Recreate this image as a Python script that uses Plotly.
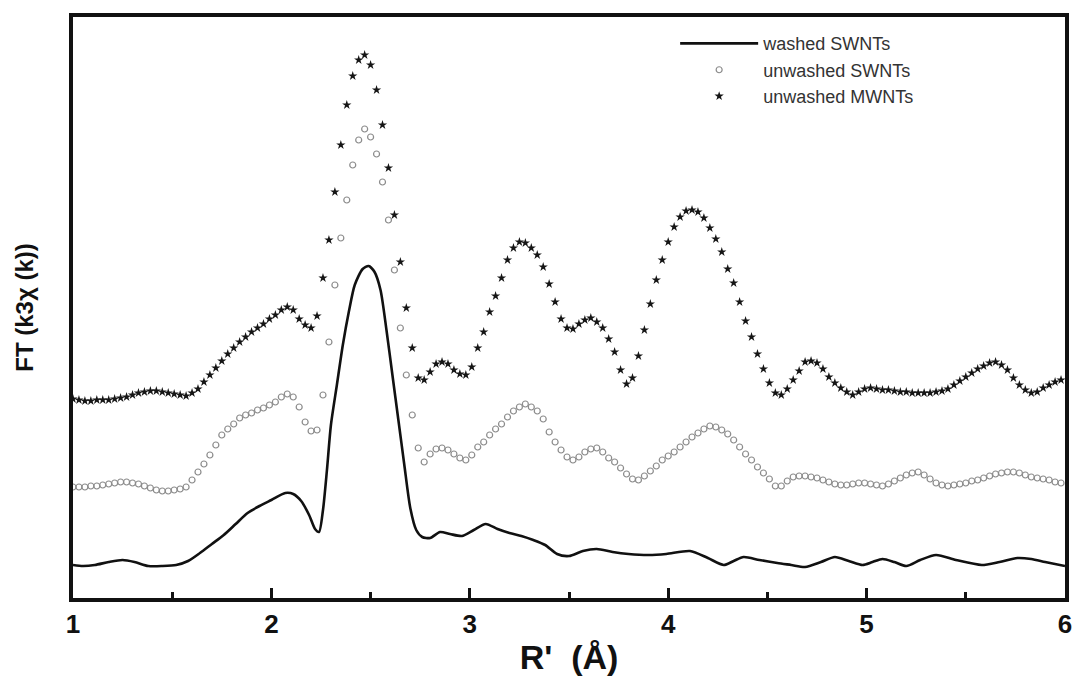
import plotly.graph_objects as go

# ---- data (y in arbitrary offset units) ----
R_grid = [1.00, 1.03, 1.06, 1.09, 1.12, 1.15, 1.18, 1.21, 1.24, 1.27,
          1.30, 1.33, 1.36, 1.39, 1.42, 1.45, 1.48, 1.51, 1.54, 1.57,
          1.60, 1.63, 1.66, 1.69, 1.72, 1.75, 1.78, 1.81, 1.84, 1.87,
          1.90, 1.93, 1.96, 1.99, 2.02, 2.05, 2.08, 2.11, 2.14, 2.17,
          2.20, 2.23, 2.26, 2.29, 2.32, 2.35, 2.38, 2.41, 2.44, 2.47,
          2.50, 2.53, 2.56, 2.59, 2.62, 2.65, 2.68, 2.71, 2.74, 2.77,
          2.80, 2.83, 2.86, 2.89, 2.92, 2.95, 2.98, 3.01, 3.04, 3.07,
          3.10, 3.13, 3.16, 3.19, 3.22, 3.25, 3.28, 3.31, 3.34, 3.37,
          3.40, 3.43, 3.46, 3.49, 3.52, 3.55, 3.58, 3.61, 3.64, 3.67,
          3.70, 3.73, 3.76, 3.79, 3.82, 3.85, 3.88, 3.91, 3.94, 3.97,
          4.00, 4.03, 4.06, 4.09, 4.12, 4.15, 4.18, 4.21, 4.24, 4.27,
          4.30, 4.33, 4.36, 4.39, 4.42, 4.45, 4.48, 4.51, 4.54, 4.57,
          4.60, 4.63, 4.66, 4.69, 4.72, 4.75, 4.78, 4.81, 4.84, 4.87,
          4.90, 4.93, 4.96, 4.99, 5.02, 5.05, 5.08, 5.11, 5.14, 5.17,
          5.20, 5.23, 5.26, 5.29, 5.32, 5.35, 5.38, 5.41, 5.44, 5.47,
          5.50, 5.53, 5.56, 5.59, 5.62, 5.65, 5.68, 5.71, 5.74, 5.77,
          5.80, 5.83, 5.86, 5.89, 5.92, 5.95, 5.98]

unwashed_mwnt = [201, 200, 199, 199, 200, 200, 200, 201, 202, 203,
                 205, 207, 208, 209, 209, 208, 207, 206, 205, 204,
                 207, 211, 218, 225, 232, 239, 246, 252, 258, 263,
                 268, 272, 276, 281, 285, 290, 293, 290, 281, 275,
                 272, 284, 322, 360, 408, 455, 495, 524, 540, 545,
                 535, 510, 475, 432, 385, 338, 292, 252, 222, 220,
                 228, 236, 238, 236, 230, 226, 225, 233, 252, 268,
                 288, 304, 322, 340, 352, 358, 357, 352, 345, 333,
                 316, 298, 281, 272, 271, 276, 280, 282, 278, 272,
                 261, 248, 230, 216, 222, 244, 270, 296, 320, 340,
                 358, 373, 383, 389, 390, 388, 382, 372, 361, 348,
                 331, 317, 298, 279, 263, 246, 231, 217, 207, 205,
                 211, 220, 229, 238, 239, 237, 231, 223, 217, 212,
                 208, 205, 208, 211, 212, 211, 210, 210, 209, 208,
                 208, 207, 207, 207, 207, 208, 209, 211, 215, 219,
                 223, 227, 231, 234, 237, 238, 235, 230, 222, 215,
                 210, 207, 208, 212, 215, 218, 220]

unwashed_swnt = [113, 113, 113, 114, 114, 115, 116, 117, 118, 118,
                 117, 116, 114, 112, 110, 109, 109, 110, 111, 113,
                 120, 128, 136, 145, 155, 165, 171, 176, 182, 185,
                 187, 190, 192, 195, 198, 203, 206, 203, 193, 178,
                 169, 170, 205, 258, 315, 362, 400, 435, 460, 471,
                 463, 446, 418, 380, 330, 272, 225, 185, 152, 138,
                 146, 151, 152, 150, 146, 142, 140, 145, 153, 158,
                 165, 171, 176, 183, 189, 193, 196, 193, 189, 181,
                 168, 158, 150, 143, 140, 143, 148, 151, 152, 148,
                 142, 138, 132, 126, 121, 120, 124, 129, 134, 140,
                 144, 148, 153, 158, 163, 167, 171, 174, 173, 170,
                 166, 160, 153, 146, 140, 133, 127, 121, 114, 114,
                 119, 123, 124, 124, 123, 122, 120, 118, 116, 115,
                 115, 116, 117, 117, 116, 115, 114, 116, 119, 122,
                 125, 127, 128, 125, 121, 117, 115, 114, 115, 116,
                 117, 119, 120, 122, 124, 126, 127, 128, 128, 127,
                 125, 123, 122, 121, 120, 118, 117]

R_washed = [1.00, 1.05, 1.11, 1.18, 1.25, 1.31, 1.38, 1.45, 1.52, 1.58,
            1.64, 1.70, 1.76, 1.82, 1.88, 1.94, 2.00, 2.07, 2.11, 2.15,
            2.19, 2.22, 2.24, 2.26, 2.28, 2.30, 2.33, 2.36, 2.39, 2.42,
            2.46, 2.49, 2.52, 2.55, 2.58, 2.61, 2.64, 2.67, 2.70, 2.73,
            2.76, 2.80, 2.85, 2.90, 2.96, 3.02, 3.08, 3.14, 3.20, 3.26,
            3.32, 3.38, 3.44, 3.50, 3.57, 3.64, 3.72, 3.80, 3.90, 3.99,
            4.11, 4.20, 4.28, 4.33, 4.38, 4.46, 4.55, 4.62, 4.69, 4.77,
            4.84, 4.91, 4.98, 5.03, 5.08, 5.14, 5.20, 5.27, 5.35, 5.45,
            5.58, 5.67, 5.76, 5.83, 5.90, 6.00]
washed_swnt = [35, 34, 35, 38, 40, 38, 34, 34, 35, 39,
               47, 56, 65, 76, 87, 94, 100, 107, 106, 99,
               85, 71, 68, 90, 130, 175, 215, 255, 288, 315,
               331, 334, 328, 310, 270, 225, 180, 135, 92, 70,
               63, 62, 68, 66, 64, 70, 76, 71, 67, 64,
               60, 55, 46, 44, 49, 51, 48, 46, 45, 46,
               49, 42, 35, 39, 43, 40, 37, 35, 33, 38,
               43, 39, 35, 38, 41, 38, 34, 40, 45, 40,
               35, 38, 42, 41, 38, 34]

x_ticks = [1, 2, 3, 4, 5, 6]
x_title = "R'\u00a0 (Å)"
y_title = "FT (k3χ (k))"
names = ["washed SWNTs", "unwashed SWNTs", "unwashed MWNTs"]

fig = go.Figure()
fig.add_trace(go.Scatter(
    x=R_washed, y=washed_swnt, mode="lines", name=names[0],
    line=dict(color="#111111", width=2.6, shape="spline", smoothing=0.7),
))
fig.add_trace(go.Scatter(
    x=R_grid, y=unwashed_swnt, mode="markers", name=names[1],
    marker=dict(symbol="circle-open", size=6, color="#8c8c8c",
                line=dict(width=1.2, color="#8c8c8c")),
))
fig.add_trace(go.Scatter(
    x=R_grid, y=unwashed_mwnt, mode="markers", name=names[2],
    marker=dict(symbol="star", size=7, color="#151515",
                line=dict(width=0)),
))

font_family = "Liberation Sans, Arial, sans-serif"
fig.update_layout(
    width=1074, height=683, autosize=False,
    paper_bgcolor="white", plot_bgcolor="white",
    margin=dict(l=73, r=9, t=17, b=85, autoexpand=False),
    font=dict(family=font_family, color="#111111"),
    showlegend=True,
    legend=dict(
        x=0.607, y=0.986, xanchor="left", yanchor="top",
        bgcolor="rgba(0,0,0,0)", borderwidth=0,
        font=dict(size=18, color="#333333", family=font_family),
        itemwidth=78,
    ),
    xaxis=dict(
        range=[1, 6], tickvals=x_ticks, ticktext=[str(t) for t in x_ticks],
        ticks="inside", ticklen=10, tickwidth=3, tickcolor="#111111",
        minor=dict(ticks="inside", ticklen=6, tickwidth=3,
                   tickcolor="#111111", dtick=0.5, showgrid=False),
        showline=True, linewidth=4, linecolor="#111111", mirror=True,
        showgrid=False, zeroline=False, automargin=False,
        tickfont=dict(size=26, family=font_family, weight="bold"),
        title=dict(text=x_title, standoff=8,
                   font=dict(size=34, family=font_family, weight="bold")),
    ),
    yaxis=dict(
        range=[2, 583], showticklabels=False, ticks="",
        showline=True, linewidth=4, linecolor="#111111", mirror=True,
        showgrid=False, zeroline=False, automargin=False,
        title=dict(text=y_title, standoff=30,
                   font=dict(size=24, family=font_family, weight="bold")),
    ),
)

fig.write_html(
    "out.html",
    config={"displayModeBar": False, "responsive": False},
    post_script="document.body.style.margin='0';"
                "document.documentElement.style.overflow='hidden';",
)
